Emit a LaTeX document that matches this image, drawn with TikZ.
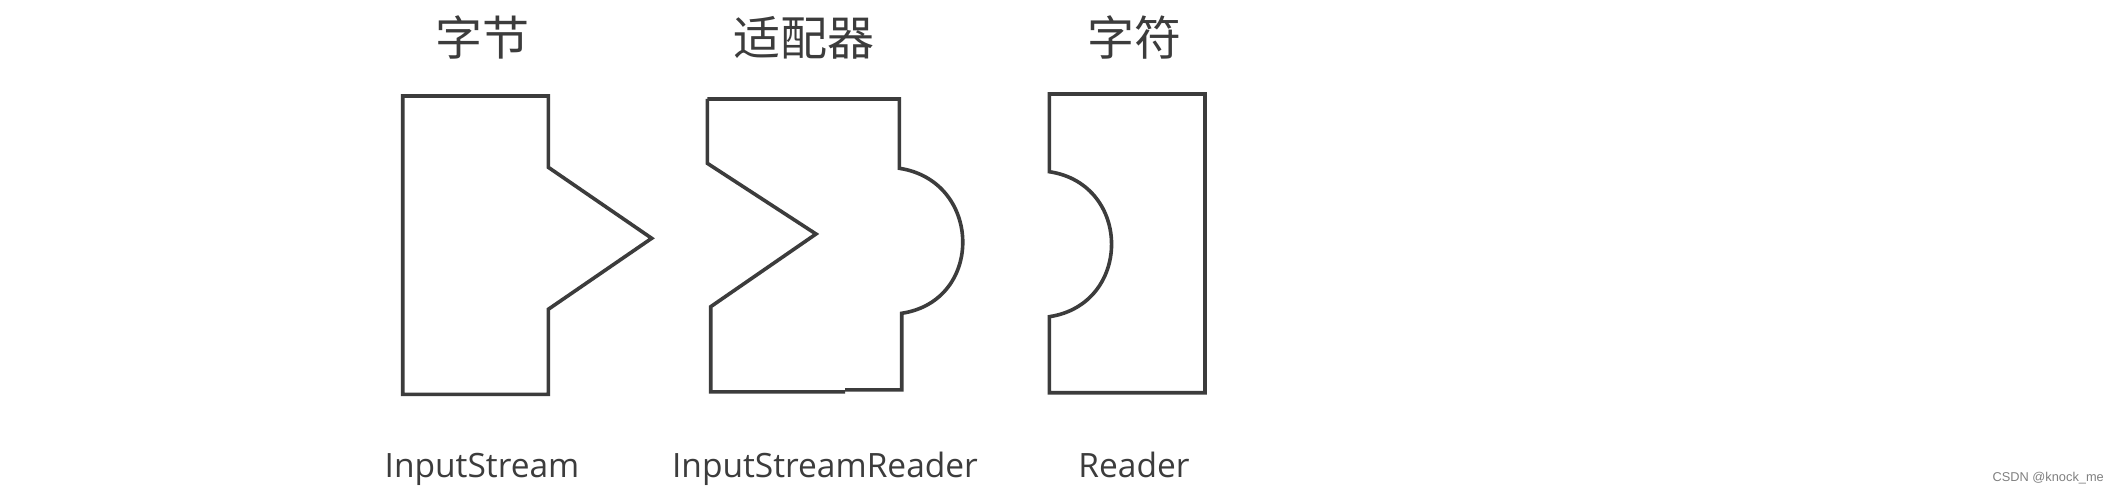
\documentclass[tikz,border=0pt]{standalone}
\usepackage{fontspec}
\setmainfont{Open Sans}
\newfontfamily\cjk{Noto Sans CJK SC}
\newfontfamily\wmfont{Liberation Sans}
\definecolor{ink}{RGB}{60,60,60}
\definecolor{wm}{RGB}{128,128,128}
\begin{document}
\begin{tikzpicture}[x=1pt,y=-1pt,
  outline/.style={draw=ink,line width=3.6pt,line join=miter},
  title/.style={text=ink,inner sep=0pt,anchor=center,font=\cjk\fontsize{47}{47}\selectfont},
  label/.style={text=ink,inner sep=0pt,anchor=base,font=\fontsize{33.5}{33.5}\selectfont},
  wmtext/.style={text=wm,inner sep=0pt,anchor=east,font=\wmfont\fontsize{12.8}{12.8}\selectfont}]
\useasboundingbox[fill=white] (0,0) rectangle (2120,494);
% titles
\node[title] (t1) at (482,37.5) {字节};
\node[title] (t2) at (804,37.5) {适配器};
\node[title] (t3) at (1134,37.5) {字符};
% shape 1: InputStream
\draw[outline] (402.7,96) -- (548.3,96) -- (548.3,167.3) -- (651.7,238.3)
  -- (548.3,309.3) -- (548.3,394.3) -- (402.7,394.3) -- cycle;
% shape 2: InputStreamReader
\draw[outline] (707.3,99) -- (899.3,99) -- (899.3,168.3)
  .. controls +(83,12.5) and +(83,-12.5) .. (901.7,313.3)
  -- (901.7,389.8) -- (845,389.8);
\draw[outline] (845,391.8) -- (710.7,391.8) -- (710.7,306.7) -- (816,234)
  -- (707.3,163.3) -- (707.3,99);
% shape 3: Reader
\draw[outline] (1049.3,94) -- (1205,94) -- (1205,392.7) -- (1049.3,392.7)
  -- (1049.3,316.7) .. controls +(83,-12.5) and +(83,12.5) .. (1049.3,171.7)
  -- cycle;
% labels
\node[label] (l1) at (482,477) {InputStream};
\node[label] (l2) at (825,477) {InputStreamReader};
\node[label] (l3) at (1134,477) {Reader};
% watermark
\node[wmtext] (w) at (2104,478) {CSDN @knock\_me};
\end{tikzpicture}
\end{document}
